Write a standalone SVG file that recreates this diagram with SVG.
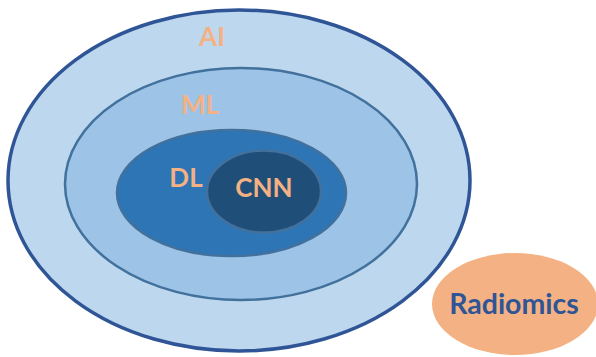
<svg xmlns="http://www.w3.org/2000/svg" width="596" height="357" viewBox="0 0 596 357">
<style>
.lbl{font-family:Lato,"Open Sans","Liberation Sans",sans-serif;font-weight:bold;text-anchor:middle}
.or{fill:#F4B183;font-size:26px}
.bl{fill:#2F5597;font-size:28.5px}
</style>
<rect width="596" height="357" fill="#FFFFFF"/>
<g id="ai">
<ellipse cx="239" cy="180.5" rx="231" ry="170.5" fill="#BDD7EE" stroke="#2F5597" stroke-width="3.5"/>
<text class="lbl or" x="212" y="46">AI</text>
</g>
<g id="ml">
<ellipse cx="241" cy="184" rx="176" ry="116" fill="#9DC3E6" stroke="#41719C" stroke-width="2.5"/>
<text class="lbl or" x="200" y="114">ML</text>
</g>
<g id="dl">
<ellipse cx="231.5" cy="193" rx="114.5" ry="63" fill="#2E75B6" stroke="#41719C" stroke-width="2.5"/>
<text class="lbl or" x="186" y="187">DL</text>
</g>
<g id="cnn">
<ellipse cx="264" cy="191.5" rx="57" ry="41" fill="#1F4E79" stroke="#41719C" stroke-width="2.5"/>
<text class="lbl or" x="264" y="197">CNN</text>
</g>
<g id="radiomics">
<ellipse cx="515" cy="304" rx="83" ry="51" fill="#F4B183"/>
<text class="lbl bl" x="514" y="314">Radiomics</text>
</g>
<g id="connectors"/>
</svg>
